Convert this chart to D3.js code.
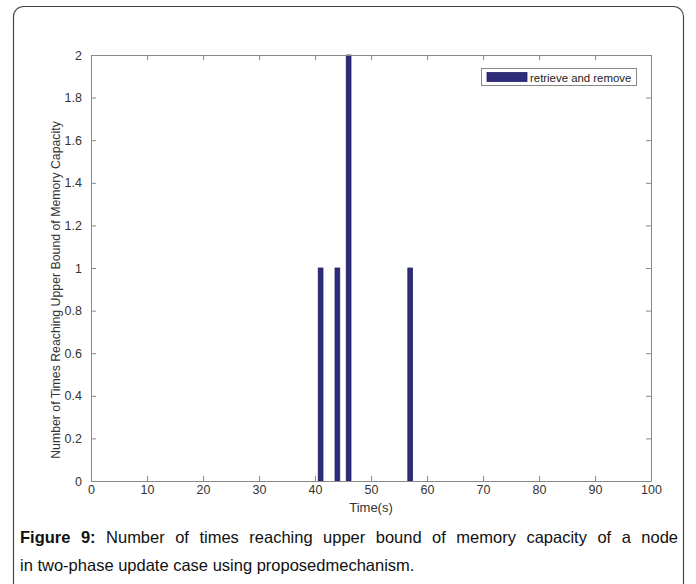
<!DOCTYPE html>
<html><head><meta charset="utf-8">
<script src="https://cdn.jsdelivr.net/npm/d3@7"></script>
<style>body{margin:0;background:#fff}svg{display:block}</style>
</head><body>
<script>
const times = [41, 44, 46, 57];
const counts = [1, 1, 2, 1];
const xTicks = [0,10,20,30,40,50,60,70,80,90,100];
const yTicks = [0,0.2,0.4,0.6,0.8,1,1.2,1.4,1.6,1.8,2];
const seriesName = "retrieve and remove";
const xLabel = "Time(s)";
const yLabel = "Number of Times Reaching Upper Bound of Memory Capacity";
const captionBold = "Figure 9:";
const captionLine1 = " Number of times reaching upper bound of memory capacity of a node";
const captionLine2 = "in two-phase update case using proposedmechanism.";

const W = 696, H = 584;
const svg = d3.select("body").append("svg").attr("width", W).attr("height", H);
svg.append("rect").attr("x", 13.5).attr("y", 6.5).attr("width", 670).attr("height", 620)
  .attr("rx", 10).attr("fill", "#fff").attr("stroke", "#444").attr("stroke-width", 1.2);

const L = 91, R = 651, T = 55, B = 481;
const x = d3.scaleLinear().domain([0,100]).range([L,R]);
const y = d3.scaleLinear().domain([0,2]).range([B,T]);
const axisColor = "#888", font = "'Liberation Sans', Arial, sans-serif";

const g = svg.append("g");
const bw = 0.85;
g.selectAll("rect.bar").data(times).enter().append("rect")
  .attr("x", (d)=>x(d - bw/2)).attr("width", (d)=>x(d + bw/2) - x(d - bw/2))
  .attr("y", (d,i)=>y(counts[i])).attr("height", (d,i)=>y(0) - y(counts[i]))
  .attr("fill", "#2d2b7a").attr("stroke", "#25236a").attr("stroke-width", 0.8);

const ax = (axis)=>axis.tickSizeOuter(0);
const xb = g.append("g").attr("transform", `translate(0,${B})`)
  .call(ax(d3.axisBottom(x).tickValues(xTicks).tickSize(-5).tickPadding(4).tickFormat(d3.format("d"))));
const xt = g.append("g").attr("transform", `translate(0,${T})`)
  .call(ax(d3.axisTop(x).tickValues(xTicks).tickSize(-5).tickFormat("")));
const yl = g.append("g").attr("transform", `translate(${L},0)`)
  .call(ax(d3.axisLeft(y).tickValues(yTicks).tickSize(-5).tickPadding(9).tickFormat(d3.format("~g"))));
const yr = g.append("g").attr("transform", `translate(${R},0)`)
  .call(ax(d3.axisRight(y).tickValues(yTicks).tickSize(-5).tickFormat("")));
[xb,xt,yl,yr].forEach(a=>{
  a.select(".domain").attr("stroke", axisColor);
  a.selectAll(".tick line").attr("stroke", axisColor);
  a.selectAll(".tick text").attr("fill", "#333").attr("font-family", font).attr("font-size", 12.5);
});
xb.selectAll(".tick text").attr("y", 4).attr("dy", "0.71em");

svg.append("text").attr("x", (L+R)/2).attr("y", 512).attr("text-anchor", "middle")
  .attr("font-family", font).attr("font-size", 13).attr("fill", "#333").text(xLabel);
svg.append("text").attr("transform", `translate(60,${(T+B)/2 + 22}) rotate(-90)`)
  .attr("text-anchor", "middle").attr("font-family", font).attr("font-size", 12.3)
  .attr("fill", "#333").text(yLabel);

const lg = svg.append("g");
lg.append("rect").attr("x", 481.5).attr("y", 68.5).attr("width", 155).attr("height", 17)
  .attr("fill", "#fff").attr("stroke", "#888");
lg.append("rect").attr("x", 487).attr("y", 72.5).attr("width", 40).attr("height", 9)
  .attr("fill", "#2d2b7a").attr("stroke", "#25236a").attr("stroke-width", 0.8);
lg.append("text").attr("x", 530).attr("y", 81.5).attr("font-family", font).attr("font-size", 11.4)
  .attr("fill", "#222").text(seriesName);

const c1 = svg.append("text").attr("x", 20).attr("y", 543).attr("font-family", font)
  .attr("font-size", 16.5).attr("fill", "#111");
c1.append("tspan").attr("font-weight", "bold").text(captionBold);
c1.append("tspan").text(captionLine1);
const target = 658;
const w1 = c1.node().getComputedTextLength();
const nSpaces = (captionBold + captionLine1).split(" ").length - 1;
c1.attr("word-spacing", Math.max(0, (target - w1) / nSpaces));
svg.append("text").attr("x", 20).attr("y", 571).attr("font-family", font)
  .attr("font-size", 16.5).attr("fill", "#111").text(captionLine2);
</script>
</body></html>
